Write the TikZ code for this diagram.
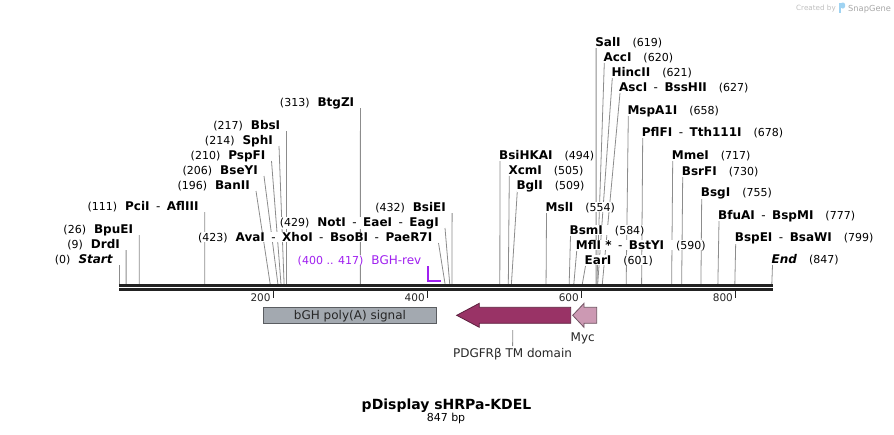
\documentclass[tikz,border=0pt]{standalone}
\usepackage{fontspec}
\setmainfont{DejaVu Sans}
\usepackage{tikz}
\usetikzlibrary{backgrounds}
\definecolor{leadgray}{HTML}{8C8C8C}
\definecolor{backbone}{HTML}{222222}
\definecolor{primer}{HTML}{A020F0}
\definecolor{polyafill}{HTML}{A3A9B0}
\definecolor{tmfill}{HTML}{993366}
\definecolor{mycfill}{HTML}{CC99B3}
\definecolor{snapblue}{HTML}{9FD3F2}
% bp -> x position on the map
\newcommand{\bpx}[1]{119.2+0.7705*#1}
\newcommand{\nb}[1]{{\fontsize{11}{13}\selectfont\mdseries(#1)}}
\newcommand{\dsh}{\hspace{6.5pt}{\mdseries-}\hspace{6.5pt}}

\begin{document}
\begin{tikzpicture}[x=1pt, y=-1pt,
  enz/.style={inner sep=0pt, fill=white, font=\fontsize{12}{14}\selectfont\bfseries},
  lft/.style={enz, anchor=base east, xshift=-6pt, yshift=2pt},
  rgt/.style={enz, anchor=base west, xshift=-1pt, yshift=2pt},
  lead/.style={draw=leadgray, line width=0.8pt},
  feat/.style={line width=0.8pt, line join=miter},
  flab/.style={inner sep=0pt, font=\fontsize{12}{14}\selectfont, text=black!85}]
  \useasboundingbox (0,0) rectangle (894,434);

  % enzymes left of their cut line
  \foreach \bp/\lx/\ly/\nm in {0/119.2/265/\textit{Start}, 9/126.1/250/DrdI,
      26/139.2/235/BpuEI, 111/204.7/212/PciI\dsh AflIII, 196/256/191/BanII,
      206/264/176/BseYI, 210/271.5/161/PspFI, 214/279/146/SphI,
      217/286.4/131/BbsI, 313/360.4/108/BtgZI,
      423/438.5/243/AvaI\dsh XhoI\dsh BsoBI\dsh PaeR7I,
      429/445/228/NotI\dsh EaeI\dsh EagI, 432/452.1/213/BsiEI}{
    \coordinate (s\bp) at ({\bpx{\bp}},284.3);
    \node[lft] (e\bp) at (\lx,\ly) {\nb{\bp}\hspace{8pt}\nm};
    \begin{pgfonlayer}{background}
      \draw[lead] ([xshift=6pt,yshift=-2pt]e\bp.base east) -- (s\bp);
    \end{pgfonlayer}
  }
  % enzymes right of their cut line
  \foreach \bp/\lx/\ly/\nm in {494/500/161/BsiHKAI, 505/509.3/176/XcmI,
      509/517.3/191/BglI, 554/546.5/213/MslI, 584/570.5/236/BsmI,
      590/576.7/251/MflI *\dsh BstYI, 601/585.5/266/EarI,
      619/596.1/48/SalI, 620/604.3/63/AccI, 621/612.3/78/HincII,
      627/620/93/AscI\dsh BssHII, 658/628.3/116/MspA1I,
      678/642.7/138/PflFI\dsh Tth111I, 717/672.7/161/MmeI,
      730/682.7/177/BsrFI, 755/701.7/198/BsgI, 777/719/221/BfuAI\dsh BspMI,
      799/735.7/243/BspEI\dsh BsaWI, 847/772.5/265/\textit{End}}{
    \coordinate (s\bp) at ({\bpx{\bp}},284.3);
    \node[rgt] (e\bp) at (\lx,\ly) {\nm\hspace{12pt}\nb{\bp}};
    \begin{pgfonlayer}{background}
      \draw[lead] ([xshift=1pt,yshift=-2pt]e\bp.base west) -- (s\bp);
    \end{pgfonlayer}
  }

  % primer
  \node[inner sep=0pt, fill=white, anchor=base east, xshift=-6pt, yshift=2pt, text=primer] (bghrev) at (427.5,266)
    {{\fontsize{11}{13}\selectfont(400 .. 417)}\hspace{8pt}{\fontsize{12}{14}\selectfont BGH-rev}};
  \coordinate (bghend) at ({\bpx{417}},281);
  \draw[primer, line width=2pt] ([xshift=6pt,yshift=-2pt]bghrev.base east) |- (bghend);

  % backbone and ticks
  \draw[backbone, line width=2.6pt] (119.2,285.6) -- (773,285.6);
  \draw[backbone, line width=2.4pt] (119.2,289.5) -- (773,289.5);
  \foreach \tk in {200,400,600,800}{
    \coordinate (t\tk) at ({\bpx{\tk}},290);
    \draw[backbone, line width=1.6pt] (t\tk) -- ++(0,7.7);
    \node[anchor=base east, inner sep=0pt, font=\fontsize{10.5}{12}\selectfont, text=black!85]
      (tl\tk) at ([xshift=-2.5pt,yshift=-11.5pt]t\tk) {\tk};
  }

  % features
  \draw[feat, fill=polyafill, draw=polyafill!55!black] (263.3,307.3) rectangle (436.7,323.3);
  \node[flab, anchor=base] (polya) at (350,319.7) {bGH poly(A) signal};
  \draw[feat, fill=tmfill, draw=tmfill!60!black] (456.7,315.3) -- (479.3,303.3) -- (479.3,307.3)
    -- (570.7,307.3) -- (570.7,323.3) -- (479.3,323.3) -- (479.3,327.3) -- cycle;
  \draw[feat, fill=mycfill, draw=mycfill!55!black] (572.7,315.3) -- (584,303.3) -- (584,307.3)
    -- (596.7,307.3) -- (596.7,323.3) -- (584,323.3) -- (584,327.3) -- cycle;
  \coordinate (tmb) at (512.8,330);
  \node[flab, anchor=base, inner sep=1.5pt] (tmlab) at (512.5,357.1) {PDGFRβ TM domain};
  \draw[lead] (tmb) -- (tmlab);
  \node[flab, anchor=base] (myc) at (582.7,341.1) {Myc};

  % title
  \node[anchor=base, inner sep=0pt, font=\fontsize{14}{16}\selectfont\bfseries] (title) at (446.5,409.4) {pDisplay sHRPa-KDEL};
  \node[anchor=base, inner sep=0pt, font=\fontsize{11}{13}\selectfont] (len) at (446,421.3) {847 bp};

  % watermark
  \node[anchor=base west, inner sep=0pt, font=\fontsize{7.2}{8}\selectfont, text=black!25] (cre) at (796,10.3) {Created by};
  \fill[snapblue] (838.5,2.5) rectangle (840.6,13);
  \fill[snapblue, rounded corners=2pt] (840.6,2.5) rectangle (845,8.5);
  \node[anchor=base west, inner sep=0pt, font=\fontsize{8.3}{9}\selectfont, text=black!35] (sg) at (848,11) {SnapGene};
\end{tikzpicture}
\end{document}
